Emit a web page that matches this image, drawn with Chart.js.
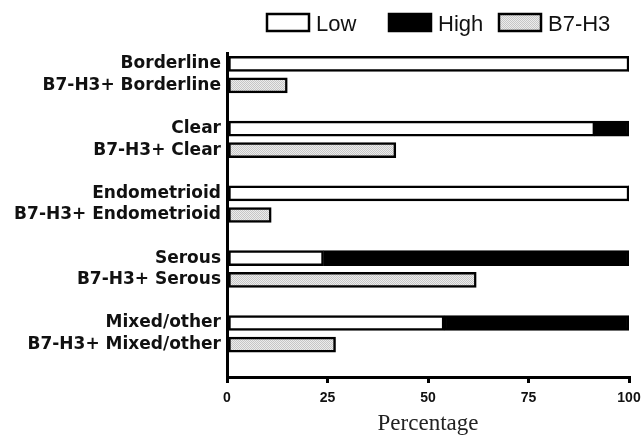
<!DOCTYPE html>
<html>
<head>
<meta charset="utf-8">
<script src="https://cdn.jsdelivr.net/npm/chart.js@4"></script>
<style>
  html, body { margin: 0; padding: 0; background: #fff; }
  #wrap { width: 644px; height: 435px; }
</style>
</head>
<body>
<div id="wrap"><canvas id="myChart" width="644" height="435"></canvas></div>
<script>
// tumour types and their values (percent)
const types = ["Borderline", "Clear", "Endometrioid", "Serous", "Mixed/other"];
const lowValues = [100, 91.5, 100, 24, 54];
const highValues = [0, 8.5, 0, 76, 46];
const b7h3Values = [15, 42, 11, 62, 27];
const xTicks = [0, 25, 50, 75, 100];

// each type gets two rows (grade, B7-H3+) and a blank spacer row
const rowLabels = [];
const lowRows = [];
const highRows = [];
const b7Rows = [];
types.forEach((t, i) => {
  rowLabels.push(t, "B7-H3+ " + t, "");
  lowRows.push(lowValues[i], null, null);
  highRows.push(highValues[i], null, null);
  b7Rows.push(null, b7h3Values[i], null);
});

const makeDots = () => {
  const c = document.createElement("canvas");
  c.width = 2;
  c.height = 2;
  const g = c.getContext("2d");
  g.fillStyle = "#ececec";
  g.fillRect(0, 0, 2, 2);
  g.fillStyle = "#c6c6c6";
  g.fillRect(0, 0, 1, 1);
  g.fillRect(1, 1, 1, 1);
  return g.createPattern(c, "repeat");
};
const dots = makeDots();

const legendX = [267, 389, 499];
const boxLegend = {
  id: "boxLegend",
  afterDraw(chart) {
    const ctx = chart.ctx;
    ctx.save();
    chart.data.datasets.forEach((ds, i) => {
      const x = legendX[i];
      ctx.fillStyle = ds.backgroundColor;
      ctx.fillRect(x, 14, 42, 17);
      ctx.lineWidth = 2.5;
      ctx.strokeStyle = "#000";
      ctx.strokeRect(x, 14, 42, 17);
      ctx.fillStyle = "#111";
      ctx.font = "22px 'Liberation Sans', Arial, sans-serif";
      ctx.textBaseline = "alphabetic";
      ctx.fillText(ds.label, x + 49, 31);
    });
    ctx.restore();
  },
};

const barWidth = (c) => (c.raw ? 2.5 : 0);

const ctx = document.getElementById("myChart").getContext("2d");
const myChart = new Chart(ctx, {
  type: "bar",
  data: {
    labels: rowLabels,
    datasets: [
      { label: "Low", data: lowRows, backgroundColor: "#ffffff" },
      { label: "High", data: highRows, backgroundColor: "#000000" },
      { label: "B7-H3", data: b7Rows, backgroundColor: dots },
    ].map((d) => ({
      ...d,
      borderColor: "#000",
      borderWidth: barWidth,
      borderSkipped: false,
      barThickness: 15,
    })),
  },
  plugins: [boxLegend],
  options: {
    indexAxis: "y",
    responsive: false,
    animation: false,
    layout: { padding: { top: 53, right: 15, left: 0, bottom: 0 } },
    plugins: {
      legend: { display: false },
      tooltip: { enabled: false },
    },
    scales: {
      x: {
        stacked: true,
        min: 0,
        max: 100,
        afterBuildTicks: (axis) => {
          axis.ticks = xTicks.map((v) => ({ value: v }));
        },
        afterFit: (axis) => {
          axis.height = 58;
          axis.paddingLeft = 0;
          axis.paddingRight = 0;
        },
        grid: {
          drawOnChartArea: false,
          drawTicks: true,
          tickLength: 6,
          color: "#000",
          lineWidth: 3,
        },
        border: { display: true, color: "#000", width: 3 },
        ticks: {
          color: "#111",
          padding: 7,
          font: { family: "'Liberation Sans', Arial, sans-serif", size: 14, weight: "bold" },
        },
        title: {
          display: true,
          text: "Percentage",
          color: "#222",
          padding: { top: 0, bottom: -3 },
          font: { family: "'Liberation Serif', 'Times New Roman', serif", size: 23 },
        },
      },
      y: {
        stacked: true,
        afterFit: (axis) => {
          axis.width = 227;
        },
        grid: { display: false, drawTicks: false },
        border: { display: true, color: "#000", width: 3 },
        ticks: {
          color: "#111",
          padding: 6,
          autoSkip: false,
          font: { family: "'DejaVu Sans', sans-serif", size: 17, weight: "bold" },
        },
      },
    },
  },
});
</script>
</body>
</html>
